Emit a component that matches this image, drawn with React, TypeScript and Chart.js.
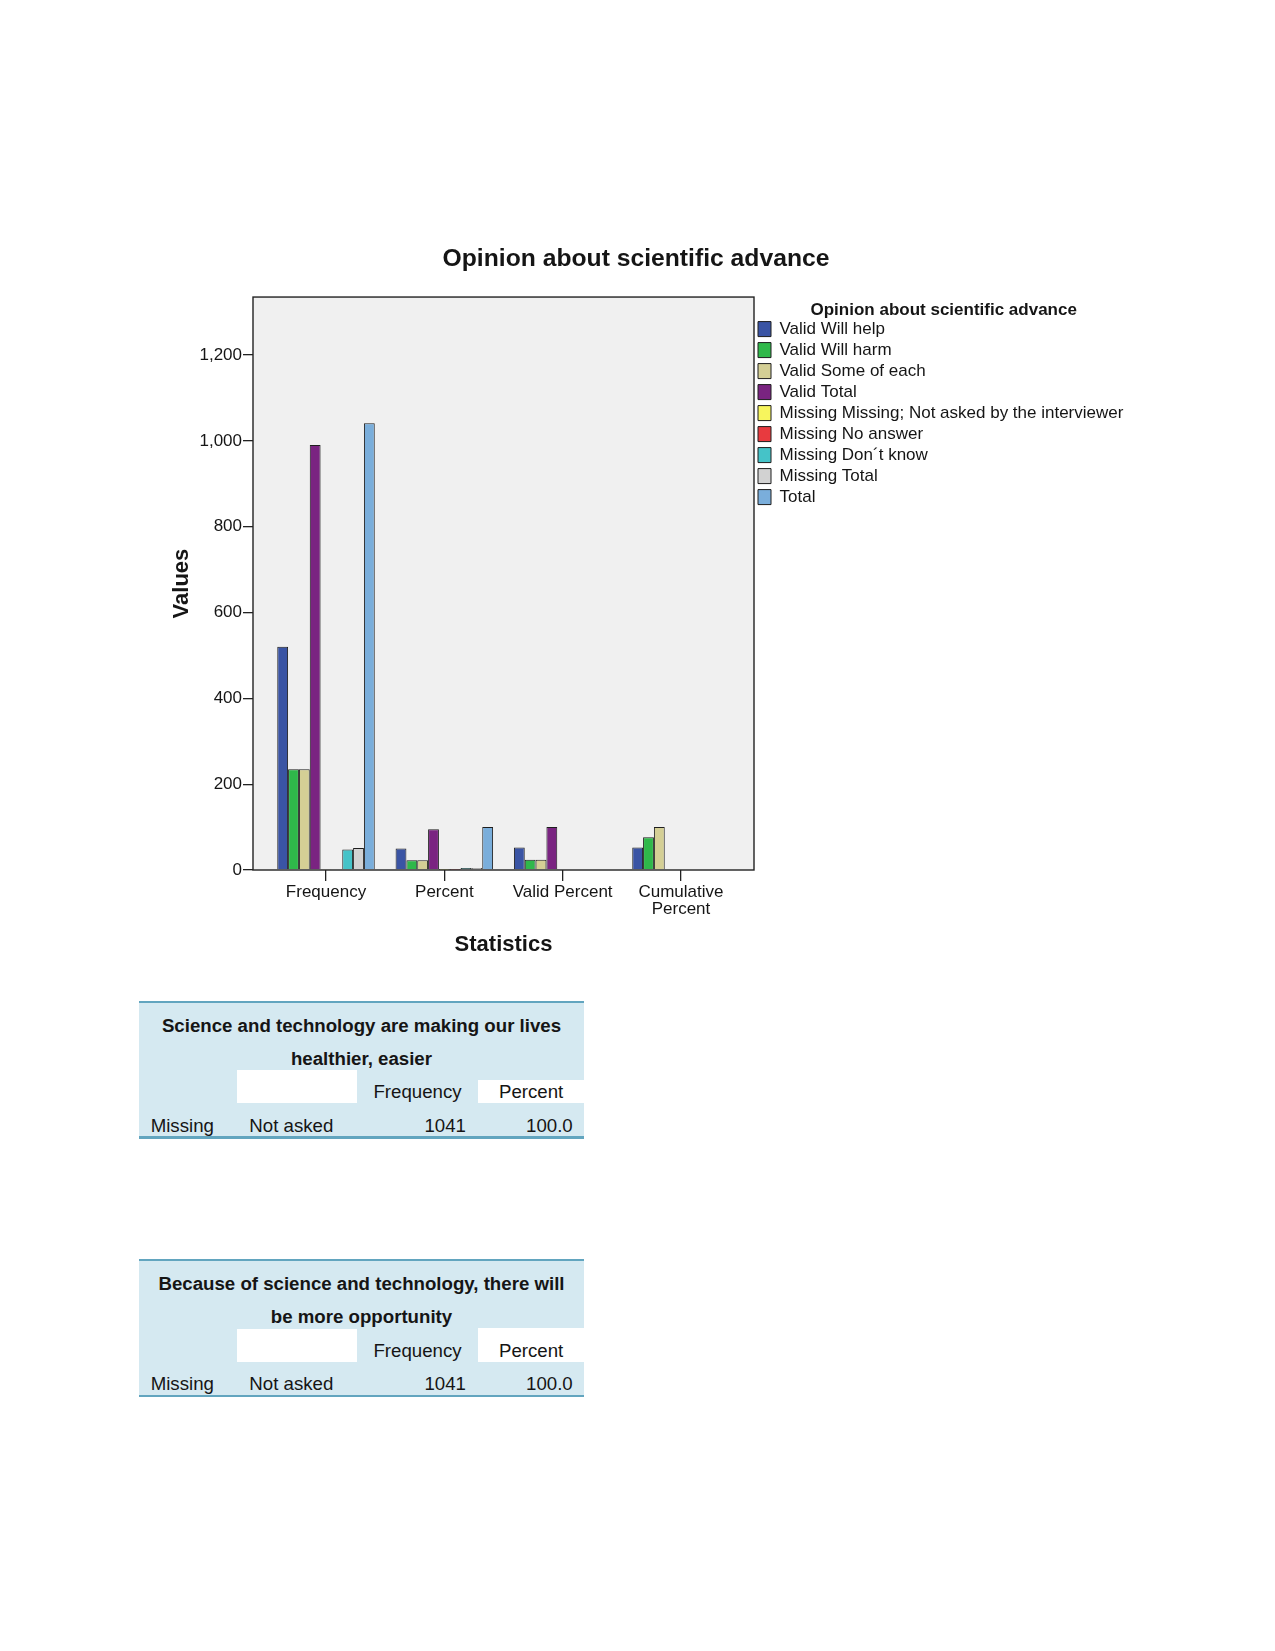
import React, { useEffect, useRef } from 'react';
import { Chart, registerables } from 'chart.js';

Chart.register(...registerables);

// ---------------- chart data ----------------
const statistics = ['Frequency', 'Percent', 'Valid Percent', 'Cumulative Percent'];
const statisticTickLabels = [['Frequency'], ['Percent'], ['Valid Percent'], ['Cumulative', 'Percent']];

const seriesNames = [
  'Valid Will help',
  'Valid Will harm',
  'Valid Some of each',
  'Valid Total',
  'Missing Missing; Not asked by the interviewer',
  'Missing No answer',
  'Missing Don\u00b4t know',
  'Missing Total',
  'Total',
];

const validWillHelp = [520, 50.0, 52.5, 52.5];
const validWillHarm = [235, 22.6, 23.7, 76.3];
const validSomeOfEach = [235, 22.6, 23.7, 100.0];
const validTotal = [990, 95.1, 100.0, null];
const missingNotAsked = [1, 0.1, null, null];
const missingNoAnswer = [2, 0.2, null, null];
const missingDontKnow = [48, 4.6, null, null];
const missingTotal = [51, 4.9, null, null];
const totalAll = [1041, 100.0, null, null];

const seriesValues = [
  validWillHelp,
  validWillHarm,
  validSomeOfEach,
  validTotal,
  missingNotAsked,
  missingNoAnswer,
  missingDontKnow,
  missingTotal,
  totalAll,
];

const seriesColors = [
  '#3a54a4',
  '#2fb84a',
  '#d4cf95',
  '#7a2481',
  '#f7f55d',
  '#e83a3f',
  '#45c3c8',
  '#d2d2d2',
  '#7aaedb',
];

const yTickValues = [0, 200, 400, 600, 800, 1000, 1200];
const yAxisMax = 1335;

const chartTitle = 'Opinion about scientific advance';
const legendTitle = 'Opinion about scientific advance';
const xAxisTitle = 'Statistics';
const yAxisTitle = 'Values';

// ---------------- table data ----------------
const table1TitleLines = ['Science and technology are making our lives', 'healthier, easier'];
const table2TitleLines = ['Because of science and technology, there will', 'be more opportunity'];
const tableColumnHeaders = ['Frequency', 'Percent'];
const tableRowGroup = 'Missing';
const tableRowLabel = 'Not asked';
const table1Values = ['1041', '100.0'];
const table2Values = ['1041', '100.0'];

// ---------------- layout / style ----------------
const FONT = "'Liberation Sans', Arial, Helvetica, sans-serif";
const CANVAS_TOP = 200;
const CANVAS_W = 1275;
const CANVAS_H = 780;
const AREA_LEFT = 253;
const AREA_RIGHT = 754;
const TITLE_CX = 636;
const Y_TITLE_CX = 182;
const TEXT = '#151515';

const framePlugin = {
  id: 'frame',
  beforeDraw(chart: any) {
    const { ctx, chartArea: a } = chart;
    ctx.save();
    ctx.fillStyle = '#f0f0f0';
    ctx.fillRect(a.left, a.top, a.right - a.left, a.bottom - a.top);
    ctx.restore();
  },
  afterDatasetsDraw(chart: any) {
    const { ctx, chartArea: a } = chart;
    ctx.save();
    ctx.strokeStyle = '#222';
    ctx.lineWidth = 1.4;
    ctx.strokeRect(a.left, a.top, a.right - a.left, a.bottom - a.top);
    ctx.restore();
  },
};

function makeConfig(lp: number, rp: number): any {
  return {
    type: 'bar',
    data: {
      datasets: seriesNames.map((name, i) => ({
        label: name,
        data: seriesValues[i].map((v, j) => ({ x: j, y: v })),
        backgroundColor: seriesColors[i],
        borderColor: '#1e1e1e',
        borderWidth: 1,
        categoryPercentage: 0.824,
        barPercentage: 1,
      })),
    },
    options: {
      animation: false,
      responsive: false,
      devicePixelRatio: 1,
      layout: { padding: { left: lp, right: rp, top: 0, bottom: 10 } },
      plugins: {
        title: {
          display: true,
          text: chartTitle,
          color: TEXT,
          font: { family: FONT, size: 24.7, weight: 'bold', lineHeight: 1.2 },
          padding: { top: 44.2, bottom: 23.2 },
        },
        legend: {
          position: 'right',
          align: 'start',
          fullSize: false,
          maxWidth: 460,
          title: {
            display: true,
            text: legendTitle,
            color: TEXT,
            font: { family: FONT, size: 17, weight: 'bold', lineHeight: 0.85 },
            padding: { top: 4.5, bottom: 0.6 },
          },
          labels: {
            boxWidth: 13,
            boxHeight: 15,
            padding: 4,
            color: TEXT,
            font: { family: FONT, size: 17 },
          },
        },
        tooltip: { enabled: false },
      },
      scales: {
        x: {
          type: 'linear',
          offset: false,
          min: -0.617,
          max: 3.617,
          afterBuildTicks: (s: any) => {
            s.ticks = statistics.map((_, i) => ({ value: i }));
          },
          afterFit: (s: any) => {
            s.height = 100;
          },
          grid: {
            offset: false,
            drawOnChartArea: false,
            drawTicks: true,
            tickLength: 11,
            color: '#222',
            lineWidth: 1.3,
          },
          border: { display: false },
          ticks: {
            autoSkip: false,
            maxRotation: 0,
            minRotation: 0,
            padding: 2.5,
            color: TEXT,
            font: { family: FONT, size: 17, lineHeight: 1.0 },
            callback: (v: any) => statisticTickLabels[Math.round(Number(v))] ?? '',
          },
          title: {
            display: true,
            text: xAxisTitle,
            color: TEXT,
            font: { family: FONT, size: 22, weight: 'bold', lineHeight: 1.2 },
            padding: { top: 0, bottom: 11.5 },
          },
        },
        y: {
          min: 0,
          max: yAxisMax,
          afterBuildTicks: (s: any) => {
            s.ticks = yTickValues.map((v) => ({ value: v }));
          },
          afterFit: (s: any) => {
            s.width = AREA_LEFT - lp;
          },
          grid: { drawOnChartArea: false, drawTicks: true, tickLength: 10, color: '#222', lineWidth: 1.3 },
          border: { display: false },
          ticks: {
            padding: 1,
            color: TEXT,
            font: { family: FONT, size: 17 },
            callback: (v: any) => Number(v).toLocaleString('en-US'),
          },
          title: {
            display: true,
            text: yAxisTitle,
            color: TEXT,
            font: { family: FONT, size: 22, weight: 'bold', lineHeight: 1.2 },
            padding: { top: Y_TITLE_CX - lp - 13.2, bottom: 0 },
          },
        },
      },
    },
    plugins: [framePlugin],
  };
}

// ---------------- tables ----------------
const TABLE_BG = '#d5e9f1';
const TABLE_LINE = '#62a5bf';
const TL = 139;
const TR = 584;

function TextAt(props: { cy: number; left: number; width: number; align: 'left' | 'center' | 'right'; bold?: boolean; children: any }) {
  return (
    <div
      style={{
        position: 'absolute',
        left: props.left,
        top: props.cy - 12,
        width: props.width,
        height: 24,
        lineHeight: '24px',
        textAlign: props.align,
        fontFamily: FONT,
        fontSize: 18.67,
        fontWeight: props.bold ? 'bold' : 'normal',
        color: TEXT,
        whiteSpace: 'nowrap',
      }}
    >
      {props.children}
    </div>
  );
}

function FrequencyTable(props: { top: number; titleLines: string[]; rightWhiteOffset: number; values: string[] }) {
  const { top, titleLines, rightWhiteOffset, values } = props;
  const W = TR - TL;
  return (
    <>
      <div style={{ position: 'absolute', left: TL, top, width: W, height: 136, background: TABLE_BG }} />
      <div style={{ position: 'absolute', left: TL, top: top - 1, width: W, height: 2, background: TABLE_LINE }} />
      <div style={{ position: 'absolute', left: TL, top: top + 134.5, width: W, height: 2.5, background: TABLE_LINE }} />
      <div style={{ position: 'absolute', left: 236.7, top: top + 68.5, width: 120, height: 33, background: '#fff' }} />
      <div
        style={{
          position: 'absolute',
          left: 478.3,
          top: top + rightWhiteOffset,
          width: TR - 478.3,
          height: 101.5 - rightWhiteOffset,
          background: '#fff',
        }}
      />
      <TextAt cy={top + 24} left={TL} width={W} align="center" bold>
        {titleLines[0]}
      </TextAt>
      <TextAt cy={top + 57.3} left={TL} width={W} align="center" bold>
        {titleLines[1]}
      </TextAt>
      <TextAt cy={top + 90.8} left={357} width={121} align="center">
        {tableColumnHeaders[0]}
      </TextAt>
      <TextAt cy={top + 90.8} left={478.3} width={W + TL - 478.3} align="center">
        {tableColumnHeaders[1]}
      </TextAt>
      <TextAt cy={top + 124} left={150.7} width={90} align="left">
        {tableRowGroup}
      </TextAt>
      <TextAt cy={top + 124} left={249.3} width={110} align="left">
        {tableRowLabel}
      </TextAt>
      <TextAt cy={top + 124} left={466 - 100} width={100} align="right">
        {values[0]}
      </TextAt>
      <TextAt cy={top + 124} left={572.7 - 100} width={100} align="right">
        {values[1]}
      </TextAt>
    </>
  );
}

export default function App() {
  const canvasRef = useRef<HTMLCanvasElement | null>(null);

  useEffect(() => {
    const canvas = canvasRef.current;
    if (!canvas) return;
    // first pass: measure the legend width produced by Chart.js
    const probe = new Chart(canvas, makeConfig(140, 143));
    const lw = (probe as any).legend ? (probe as any).legend.width : 380;
    probe.destroy();
    const rp = CANVAS_W - AREA_RIGHT - lw;
    const lp = rp + 2 * TITLE_CX - CANVAS_W;
    const chart = new Chart(canvas, makeConfig(lp, rp));
    return () => {
      chart.destroy();
    };
  }, []);

  return (
    <div
      style={{
        position: 'absolute',
        left: 0,
        top: 0,
        width: 1275,
        height: 1651,
        overflow: 'hidden',
        background: '#ffffff',
      }}
    >
      <canvas
        ref={canvasRef}
        width={CANVAS_W}
        height={CANVAS_H}
        style={{ position: 'absolute', left: 0, top: CANVAS_TOP, width: CANVAS_W, height: CANVAS_H }}
      />
      <FrequencyTable top={1001.5} titleLines={table1TitleLines} rightWhiteOffset={78} values={table1Values} />
      <FrequencyTable top={1260} titleLines={table2TitleLines} rightWhiteOffset={68} values={table2Values} />
    </div>
  );
}
